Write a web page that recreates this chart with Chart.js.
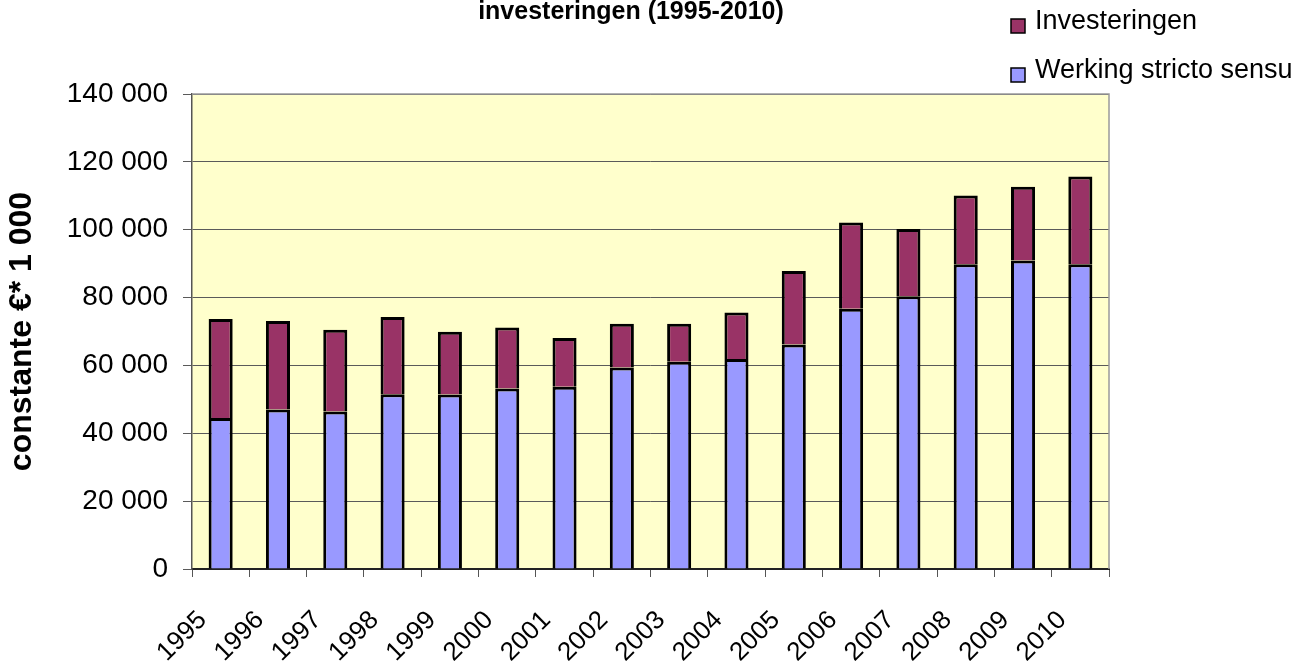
<!DOCTYPE html>
<html>
<head>
<meta charset="utf-8">
<script src="https://cdn.jsdelivr.net/npm/chart.js@4/dist/chart.umd.min.js"></script>
<style>
  html, body { margin: 0; padding: 0; background: #fff; }
  #wrap { width: 1308px; height: 663px; }
</style>
</head>
<body>
<div id="wrap"><canvas id="chart" width="1308" height="663"></canvas></div>
<script>
// Data (constante € * 1 000)
const years = ["1995", "1996", "1997", "1998", "1999", "2000", "2001", "2002",
  "2003", "2004", "2005", "2006", "2007", "2008", "2009", "2010"];
const werking = [44500, 47000, 46400, 51500, 51400, 53200, 53700, 59400,
  61100, 61900, 66200, 76700, 80400, 89800, 90900, 89800];
const investeringen = [29200, 26100, 24100, 22800, 18500, 18000, 14400, 12900,
  11200, 13700, 21600, 25400, 19800, 20300, 21800, 25900];
const chartTitle = "investeringen (1995-2010)";

const FONT = "'Liberation Sans', Arial, sans-serif";

// format 140000 -> "140 000"
function spaced(v) {
  return String(v).replace(/\B(?=(\d{3})+(?!\d))/g, " ");
}

// yellow plot background + grey frame on top/right
const plotBackground = {
  id: "plotBackground",
  beforeDraw(chart) {
    const { ctx, chartArea: a } = chart;
    ctx.save();
    ctx.fillStyle = "#FFFFCC";
    ctx.fillRect(a.left, a.top, a.right - a.left, a.bottom - a.top);
    ctx.restore();
  },
  afterDraw(chart) {
    const { ctx, chartArea: a } = chart;
    ctx.save();
    ctx.strokeStyle = "#9a9a9a";
    ctx.lineWidth = 1.5;
    ctx.beginPath();
    ctx.moveTo(a.left, a.top);
    ctx.lineTo(a.right, a.top);
    ctx.lineTo(a.right, a.bottom);
    ctx.stroke();
    ctx.restore();
  },
};

// title (cut at the top like the original) and the legend stacked on the right
const titleAndLegend = {
  id: "titleAndLegend",
  afterDraw(chart) {
    const { ctx } = chart;
    ctx.save();
    ctx.fillStyle = "#000";
    ctx.font = "bold 25px " + FONT;
    ctx.textAlign = "center";
    ctx.textBaseline = "middle";
    ctx.fillText(chartTitle, 631, 12);

    const items = chart.data.datasets.slice().reverse();
    ctx.font = "27px " + FONT;
    ctx.textAlign = "left";
    items.forEach((ds, i) => {
      const y = 26 + i * 49;
      ctx.fillStyle = ds.backgroundColor;
      ctx.fillRect(1011, y - 7, 14, 14);
      ctx.strokeStyle = "#000";
      ctx.lineWidth = 1.5;
      ctx.strokeRect(1011, y - 7, 14, 14);
      ctx.fillStyle = "#000";
      ctx.fillText(ds.label, 1035, y - 4);
    });
    ctx.restore();
  },
};

const ctx = document.getElementById("chart").getContext("2d");
new Chart(ctx, {
  type: "bar",
  data: {
    labels: years,
    datasets: [
      {
        label: "Werking stricto sensu",
        data: werking,
        backgroundColor: "#9999FF",
        borderColor: "#000",
        borderWidth: 3,
        borderSkipped: "start",
        categoryPercentage: 1,
        barPercentage: 0.42,
      },
      {
        label: "Investeringen",
        data: investeringen,
        backgroundColor: "#993366",
        borderColor: "#000",
        borderWidth: 3,
        borderSkipped: "start", // blue top edge already draws the split
        categoryPercentage: 1,
        barPercentage: 0.42,
      },
    ],
  },
  options: {
    responsive: false,
    animation: false,
    layout: { padding: { left: 0, right: 199, top: 94, bottom: 0 } },
    plugins: {
      legend: { display: false },
      tooltip: { enabled: false },
      title: { display: false },
    },
    scales: {
      x: {
        stacked: true,
        grid: {
          drawOnChartArea: false,
          offset: true,
          color: "#555",
          tickLength: 8,
        },
        border: { color: "#222", width: 2 },
        ticks: {
          color: "#000",
          font: { family: FONT, size: 26 },
          minRotation: 45,
          maxRotation: 45,
          autoSkip: false,
          padding: 28,
          labelOffset: -18,
        },
        afterFit(scale) {
          scale.height = 94;
        },
      },
      y: {
        stacked: true,
        min: 0,
        max: 140000,
        grid: { color: "#5a5a5a", lineWidth: 1, tickLength: 9 },
        border: { color: "#555", width: 1.5 },
        ticks: {
          stepSize: 20000,
          color: "#000",
          padding: 15,
          font: { family: FONT, size: 28 },
          callback: (v) => spaced(v),
        },
        title: {
          display: true,
          text: "constante €* 1 000",
          color: "#000",
          font: { family: FONT, size: 32, weight: "bold" },
          padding: { top: 3, bottom: 0 },
        },
        afterFit(scale) {
          scale.width = 192;
        },
      },
    },
  },
  plugins: [plotBackground, titleAndLegend],
});
</script>
</body>
</html>
